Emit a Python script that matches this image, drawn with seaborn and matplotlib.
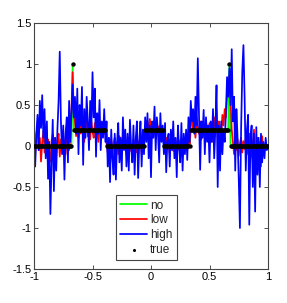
import numpy as np
import pandas as pd
import matplotlib
matplotlib.use("Agg")
import matplotlib.pyplot as plt
import seaborn as sns

# ---- data ----
x_start, x_end, n_samples = -1.0, 1.0, 201

true_levels = [0.0, 1.0, 0.2, 0.0, 0.2, 0.0, 0.2, 1.0, 0.0]
true_counts = [33, 1, 28, 33, 16, 23, 33, 1, 33]

no_noise = [
    0.00, 0.01, -0.01, 0.00, 0.01, 0.00, -0.01, 0.01, 0.00, 0.01,
    -0.01, 0.00, 0.01, 0.00, -0.01, 0.01, 0.00, 0.00, -0.01, 0.01,
    0.00, 0.01, -0.01, 0.00, 0.01, 0.00, -0.01, 0.00, 0.01, 0.00,
    -0.01, 0.01, 0.02, 1.00, 0.21, 0.19, 0.20, 0.21, 0.20, 0.19,
    0.20, 0.21, 0.19, 0.20, 0.21, 0.20, 0.19, 0.20, 0.21, 0.20,
    0.19, 0.20, 0.21, 0.20, 0.19, 0.20, 0.21, 0.20, 0.19, 0.20,
    0.21, 0.19, 0.01, 0.00, -0.01, 0.01, 0.00, -0.01, 0.00, 0.01,
    0.00, -0.01, 0.01, 0.00, 0.00, -0.01, 0.01, 0.00, -0.01, 0.00,
    0.01, 0.00, -0.01, 0.01, 0.00, 0.00, -0.01, 0.01, 0.00, -0.01,
    0.00, 0.01, 0.00, -0.01, 0.01, 0.19, 0.20, 0.21, 0.20, 0.19,
    0.20, 0.21, 0.20, 0.19, 0.20, 0.21, 0.20, 0.19, 0.21, 0.20,
    0.19, 0.01, 0.00, -0.01, 0.00, 0.01, 0.00, -0.01, 0.01, 0.00,
    -0.01, 0.00, 0.01, 0.00, -0.01, 0.01, 0.00, 0.00, -0.01, 0.01,
    0.00, -0.01, 0.01, 0.00, 0.20, 0.21, 0.19, 0.20, 0.21, 0.20,
    0.19, 0.20, 0.21, 0.20, 0.19, 0.20, 0.21, 0.20, 0.19, 0.20,
    0.21, 0.20, 0.19, 0.20, 0.21, 0.20, 0.19, 0.20, 0.21, 0.20,
    0.19, 0.20, 0.21, 0.20, 0.19, 0.20, 0.22, 1.00, 0.02, 0.00,
    -0.01, 0.01, 0.00, -0.01, 0.00, 0.01, 0.00, -0.01, 0.01, 0.00,
    0.00, -0.01, 0.01, 0.00, -0.01, 0.00, 0.01, 0.00, -0.01, 0.01,
    0.00, 0.00, -0.01, 0.01, 0.00, -0.01, 0.00, 0.01, 0.00, -0.01,
    0.00,
]

low_noise = [
    0.00, -0.10, 0.15, 0.22, -0.05, 0.10, -0.19, 0.05, 0.18, -0.08,
    0.12, -0.02, 0.08, -0.15, -0.19, 0.06, 0.14, -0.05, 0.10, -0.12,
    0.05, 0.15, -0.13, 0.08, -0.05, 0.12, 0.02, -0.10, 0.10, 0.04,
    -0.05, 0.10, 0.45, 0.90, 0.40, 0.30, 0.12, 0.25, 0.10, 0.28,
    0.15, 0.32, 0.20, 0.05, 0.25, 0.35, 0.12, 0.22, 0.08, 0.30,
    0.18, 0.10, 0.28, 0.15, 0.22, 0.05, 0.30, 0.18, 0.12, 0.25,
    0.15, 0.22, 0.05, -0.08, 0.10, -0.05, 0.08, -0.12, 0.04, 0.10,
    -0.06, 0.05, -0.10, 0.12, 0.00, -0.08, 0.09, -0.04, 0.06, -0.10,
    0.04, 0.10, -0.06, 0.02, -0.12, 0.08, -0.03, 0.05, -0.08, 0.06,
    -0.02, 0.08, -0.10, 0.04, 0.12, 0.22, 0.30, 0.15, 0.25, 0.33,
    0.18, 0.10, 0.26, 0.20, 0.12, 0.30, 0.16, 0.24, 0.08, 0.22,
    0.15, 0.05, -0.08, 0.10, -0.04, 0.06, -0.10, 0.03, 0.08, -0.06,
    0.05, -0.09, 0.02, 0.10, -0.05, 0.07, -0.12, 0.04, 0.09, -0.03,
    0.06, -0.05, 0.10, 0.02, 0.25, 0.35, 0.18, 0.28, 0.10, 0.32,
    0.22, 0.15, 0.30, 0.08, 0.26, 0.18, 0.12, 0.30, 0.20, 0.10,
    0.28, 0.15, 0.05, 0.25, 0.35, 0.18, 0.44, 0.10, 0.30, 0.22,
    0.12, 0.38, 0.25, 0.45, 0.35, 0.60, 0.70, 0.85, 0.55, 0.20,
    0.05, -0.10, 0.12, -0.05, 0.08, -0.12, 0.04, 0.10, -0.08, 0.06,
    -0.04, 0.10, -0.10, 0.05, 0.15, -0.15, 0.08, -0.20, 0.20, -0.10,
    -0.29, 0.10, -0.22, 0.05, -0.25, 0.12, -0.10, 0.02, -0.05, 0.00,
    0.00,
]

high_noise = [
    0.02, -0.25, 0.15, 0.38, -0.05, 0.55, 0.22, 0.62, 0.10, 0.45,
    -0.15, 0.30, -0.40, 0.05, -0.83, -0.20, 0.32, -0.55, 0.10, -0.30,
    0.20, 0.55, 1.15, 0.30, -0.10, 0.25, -0.41, 0.15, 0.35, -0.20,
    0.55, 0.05, 0.40, 0.75, 0.35, 0.60, 0.15, 0.70, -0.10, 0.50,
    0.25, 0.72, -0.23, 0.45, 0.10, 0.60, 0.30, -0.05, 0.55, 0.20,
    0.90, 0.35, 0.70, -0.13, 0.40, 0.15, 0.56, -0.05, 0.30, 0.10,
    0.45, 0.05, 0.30, -0.25, 0.10, -0.44, 0.20, -0.15, -0.35, 0.15,
    -0.41, 0.05, 0.28, -0.20, 0.10, -0.30, 0.35, -0.05, 0.20, -0.25,
    0.15, -0.30, 0.32, 0.00, -0.20, 0.25, -0.35, 0.10, 0.30, -0.39,
    0.05, 0.30, -0.25, 0.20, -0.10, 0.35, 0.05, 0.40, -0.15, 0.25,
    -0.38, 0.30, 0.10, 0.48, -0.05, 0.35, 0.15, -0.20, 0.40, 0.05,
    0.25, -0.10, 0.28, -0.32, 0.05, 0.15, -0.25, 0.20, -0.05, 0.30,
    -0.15, 0.10, -0.38, 0.25, 0.00, -0.20, 0.28, -0.30, 0.15, -0.10,
    0.20, -0.17, 0.35, 0.05, 0.55, 0.30, 0.45, 0.15, 0.60, 0.25,
    1.07, 0.40, -0.29, 0.30, 0.10, 0.44, -0.10, 0.35, 0.05, 0.25,
    -0.20, 0.30, 0.05, 0.45, -0.15, 0.20, 0.74, -0.50, 0.25, -0.30,
    0.30, -0.10, 0.20, 0.05, 0.40, 0.84, 0.60, 0.95, 0.50, 1.18,
    0.30, 0.60, -0.30, 0.45, 0.10, -0.40, -1.00, 0.20, 0.90, 1.23,
    0.60, -0.30, 0.20, 0.38, -0.96, 0.10, 0.25, -0.50, 0.15, -0.80,
    0.23, -0.35, 0.10, -0.50, 0.15, -0.20, 0.05, -0.15, 0.10, -0.05,
    0.00,
]

series_names = ["no", "low", "high"]
series_colors = ["#00ff00", "#ff0000", "#0000ff"]
true_label = "true"

x_ticks = [-1, -0.5, 0, 0.5, 1]
x_tick_labels = ["-1", "-0.5", "0", "0.5", "1"]
y_ticks = [-1.5, -1, -0.5, 0, 0.5, 1, 1.5]
y_tick_labels = ["-1.5", "-1", "-0.5", "0", "0.5", "1", "1.5"]

# ---- build table ----
x = np.linspace(x_start, x_end, n_samples)
true_vals = np.repeat(true_levels, true_counts)
df = pd.DataFrame({"x": x, "no": no_noise, "low": low_noise,
                   "high": high_noise, "true": true_vals})

# ---- plot ----
sns.set_style("ticks")
plt.rcParams["font.family"] = ["Liberation Sans", "DejaVu Sans"]

fig = plt.figure(figsize=(2.87, 3.03), dpi=100)
ax = fig.add_axes([0.1185, 0.1122, 0.8153, 0.8119])

for name, col in zip(series_names, series_colors):
    sns.lineplot(data=df, x="x", y=name, color=col, lw=1.25, ax=ax,
                 label=name, sort=False, estimator=None)
sns.scatterplot(data=df, x="x", y="true", color="black", s=10,
                linewidth=0, ax=ax, label=true_label, zorder=5)

ax.set_xlim(-1, 1)
ax.set_ylim(-1.5, 1.5)
ax.set_xticks(x_ticks)
ax.set_xticklabels(x_tick_labels)
ax.set_yticks(y_ticks)
ax.set_yticklabels(y_tick_labels)
ax.set_xlabel("")
ax.set_ylabel("")
ax.tick_params(direction="in", length=3, width=0.6, top=True, right=True,
               labelsize=8, colors="#333333", labelcolor="black", pad=2)
for sp in ax.spines.values():
    sp.set_visible(True)
    sp.set_color("#444444")
    sp.set_linewidth(0.8)

leg = ax.legend(loc="lower center", bbox_to_anchor=(0.48, 0.025),
                fontsize=8.5, frameon=True, fancybox=False,
                edgecolor="#444444", framealpha=1, handlelength=2.3,
                borderpad=0.35, labelspacing=0.25, handletextpad=0.25,
                borderaxespad=0.2, markerscale=0.7)
leg.get_frame().set_linewidth(0.8)

fig.savefig("out.png", dpi=100)
